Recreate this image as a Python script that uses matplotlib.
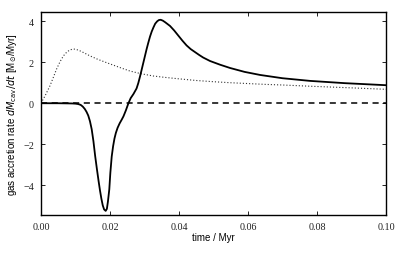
import matplotlib
matplotlib.use('Agg')
import matplotlib.pyplot as plt

# solid curve: accretion rate
t_solid = [0, 0.005, 0.009, 0.010, 0.0108, 0.0115, 0.0121, 0.0127, 0.0132, 0.0137,
           0.0142, 0.0147, 0.0152, 0.0157, 0.0162, 0.0167, 0.0171, 0.0175, 0.0179,
           0.0183, 0.01875, 0.0191, 0.0194, 0.0198, 0.0201, 0.0205, 0.0209, 0.0213,
           0.0217, 0.0222, 0.0228, 0.0234, 0.0239, 0.0246, 0.0253, 0.0260, 0.0268,
           0.0277, 0.0282, 0.0287, 0.0292, 0.0297, 0.0302, 0.0306, 0.0311, 0.0316,
           0.0321, 0.0326, 0.0331, 0.0337, 0.0342, 0.0347, 0.0353, 0.0360, 0.0367,
           0.0374, 0.0386, 0.0398, 0.0410, 0.0422, 0.0434, 0.0446, 0.0458, 0.047,
           0.049, 0.0519, 0.0548, 0.0590, 0.0635, 0.070, 0.078, 0.088, 0.1]
rate_solid = [0, 0, -0.01, -0.02, -0.04, -0.08, -0.16, -0.28, -0.42, -0.6,
              -0.88, -1.27, -1.85, -2.57, -3.2, -3.8, -4.25, -4.65, -4.98,
              -5.18, -5.25, -5.15, -4.8, -4.2, -3.4, -2.6, -2.1, -1.72,
              -1.45, -1.2, -0.98, -0.8, -0.64, -0.35, -0.02, 0.25, 0.45,
              0.72, 0.98, 1.3, 1.65, 2.0, 2.35, 2.63, 2.95, 3.25,
              3.5, 3.7, 3.88, 4.0, 4.06, 4.07, 4.03, 3.95, 3.86,
              3.77, 3.55, 3.3, 3.05, 2.82, 2.64, 2.5, 2.36, 2.23,
              2.06, 1.88, 1.72, 1.53, 1.38, 1.22, 1.09, 0.98, 0.88]

# dotted curve
t_dot = [0, 0.0013, 0.0026, 0.0036, 0.0045, 0.0055, 0.0065, 0.0075, 0.0084, 0.0092,
         0.0099, 0.011, 0.012, 0.0142, 0.0165, 0.019, 0.0229, 0.0258, 0.029,
         0.0325, 0.036, 0.04, 0.045, 0.05, 0.055, 0.06, 0.065, 0.07, 0.078, 0.09, 0.1]
rate_dot = [0, 0.4, 0.85, 1.27, 1.66, 2.02, 2.31, 2.5, 2.6, 2.64,
            2.64, 2.58, 2.5, 2.31, 2.14, 1.98, 1.74, 1.57, 1.44,
            1.33, 1.26, 1.19, 1.11, 1.05, 1.0, 0.96, 0.92, 0.89, 0.83, 0.75, 0.68]

xticks = [0.00, 0.02, 0.04, 0.06, 0.08, 0.10]
yticks = [-4, -2, 0, 2, 4]

fig = plt.figure(figsize=(4.07, 2.55), dpi=100)
ax = fig.add_axes([0.1007, 0.153, 0.8477, 0.796])

ax.plot(t_dot, rate_dot, color='#333333', lw=0.8, linestyle=(0, (1, 1.8)))
ax.plot(t_solid, rate_solid, color='black', lw=1.3)
ax.axhline(0, color='black', lw=1.1, linestyle=(0, (4, 3)))

ax.set_xlim(0, 0.1)
ax.set_ylim(-5.45, 4.45)
ax.set_xticks(xticks)
ax.set_xticklabels(['%.2f' % v for v in xticks])
ax.set_yticks(yticks)
ax.set_yticklabels(['\u2212%d' % -v if v < 0 else '%d' % v for v in yticks])

ax.tick_params(direction='in', top=True, right=True, length=3, width=0.6,
               labelsize=7.3, pad=5, colors='black')
for lab in ax.get_xticklabels() + ax.get_yticklabels():
    lab.set_family('Liberation Serif')
    lab.set_color('#222222')
for s in ax.spines.values():
    s.set_linewidth(1.0)

ax.set_xlabel('time / Myr', fontsize=7, family='Liberation Sans', labelpad=1)
ax.set_ylabel(r'gas accretion rate $dM_{\rm cav}/dt$ [M$_{\odot}$/Myr]', fontsize=7,
              family='Liberation Sans', labelpad=3)

fig.savefig('out.png', dpi=100)
